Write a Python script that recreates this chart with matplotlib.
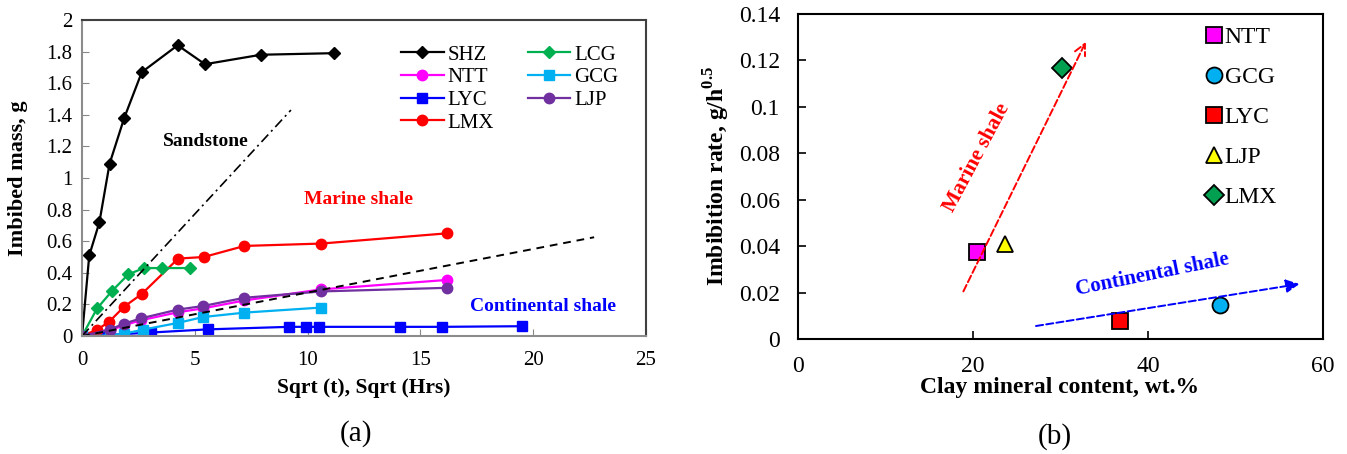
import matplotlib
matplotlib.use("Agg")
import matplotlib.pyplot as plt
import numpy as np

plt.rcParams["font.family"] = ["Liberation Serif", "DejaVu Serif"]
plt.rcParams["mathtext.fontset"] = "custom"
plt.rcParams["mathtext.rm"] = "Liberation Serif"
plt.rcParams["mathtext.bf"] = "Liberation Serif:bold"

# ---- panel (a): imbibed mass vs sqrt(t) ----
shz_x = [0, 0.32, 0.77, 1.22, 1.87, 2.65, 4.24, 5.45, 7.93, 11.18]
shz_y = [0, 0.51, 0.72, 1.09, 1.38, 1.67, 1.84, 1.72, 1.78, 1.79]

lcg_x = [0, 0.67, 1.33, 2.05, 2.74, 3.55, 4.8]
lcg_y = [0, 0.175, 0.285, 0.39, 0.43, 0.43, 0.43]

lmx_x = [0, 0.67, 1.2, 1.86, 2.64, 4.26, 5.4, 7.2, 10.6, 16.2]
lmx_y = [0, 0.04, 0.09, 0.185, 0.265, 0.49, 0.50, 0.57, 0.585, 0.65]

ntt_x = [0, 1.22, 1.86, 2.62, 4.24, 5.37, 7.2, 10.6, 16.2]
ntt_y = [0, 0.035, 0.068, 0.1, 0.15, 0.175, 0.225, 0.295, 0.355]

ljp_x = [0, 1.22, 1.86, 2.62, 4.24, 5.37, 7.2, 10.6, 16.2]
ljp_y = [0, 0.04, 0.078, 0.112, 0.167, 0.19, 0.242, 0.282, 0.305]

gcg_x = [0, 1.22, 1.87, 2.7, 4.25, 5.37, 7.2, 10.6]
gcg_y = [0, 0.003, 0.015, 0.04, 0.083, 0.12, 0.148, 0.18]

lyc_x = [0, 0.99, 3.05, 5.57, 9.19, 9.94, 10.5, 14.08, 15.95, 19.5]
lyc_y = [0, 0.005, 0.022, 0.042, 0.058, 0.058, 0.058, 0.058, 0.058, 0.062]

sand_trend_x = [0, 9.26]
sand_trend_y = [0, 1.43]
shale_trend_x = [0, 22.7]
shale_trend_y = [0, 0.625]

# ---- panel (b): imbibition rate vs clay content ----
b_labels = ["NTT", "GCG", "LYC", "LJP", "LMX"]
b_clay = [20.5, 48.2, 36.8, 23.7, 30.2]
b_rate = [0.0375, 0.0146, 0.0076, 0.0408, 0.1168]
b_markers = ["s", "o", "s", "^", "D"]
b_colors = ["#ff00ff", "#00b0f0", "#ff0000", "#ffff00", "#00a050"]
marine_arrow = [(18.9, 0.0205), (32.9, 0.128)]
continental_arrow = [(27.2, 0.0056), (57.3, 0.0237)]

fig = plt.figure(figsize=(13.47, 4.54), dpi=100)
ax1 = fig.add_axes([0.0609, 0.2599, 0.4187, 0.6961])
ax2 = fig.add_axes([0.5924, 0.2533, 0.3898, 0.7159])

lw = 1.6
ax1.plot(shz_x, shz_y, "-D", color="black", ms=6.5, lw=lw, label="SHZ")
ax1.plot(ntt_x, ntt_y, "-o", color="#ff00ff", ms=7.5, lw=lw, label="NTT")
ax1.plot(lyc_x, lyc_y, "-s", color="#0000ff", ms=7, lw=lw, label="LYC")
ax1.plot(lmx_x, lmx_y, "-o", color="#ff0000", ms=7.5, lw=lw, label="LMX")
ax1.plot(lcg_x, lcg_y, "-D", color="#00b050", ms=6, lw=lw, label="LCG")
ax1.plot(gcg_x, gcg_y, "-s", color="#00b0f0", ms=7, lw=lw, label="GCG")
ax1.plot(ljp_x, ljp_y, "-o", color="#7030a0", ms=7.5, lw=lw, label="LJP")
ax1.plot(sand_trend_x, sand_trend_y, color="black", lw=1.2, dashes=[6, 2.5, 1.2, 2.5])
ax1.plot(shale_trend_x, shale_trend_y, color="black", lw=1.4, dashes=[4, 3])

ax1.text(5.48, 1.228, "Sandstone", fontsize=14, fontweight="bold", ha="center", va="center")
ax1.text(12.27, 0.867, "Marine shale", fontsize=14, fontweight="bold", color="#ff0000",
         ha="center", va="center")
ax1.text(20.45, 0.185, "Continental shale", fontsize=14, fontweight="bold", color="#0000ff",
         ha="center", va="center")

ax1.set_xlim(0, 25)
ax1.set_ylim(0, 2)
ax1.set_xticks(np.arange(0, 26, 5))
ax1.set_yticks(np.arange(0, 2.01, 0.2))
ax1.set_yticklabels(["0", "0.2", "0.4", "0.6", "0.8", "1", "1.2", "1.4", "1.6", "1.8", "2"])
ax1.tick_params(direction="in", labelsize=15, color="#888888", length=5)
ax1.tick_params(axis="x", pad=11)
ax1.tick_params(axis="y", pad=7)
for side in ["left", "bottom"]:
    ax1.spines[side].set_color("#8c8c8c")
    ax1.spines[side].set_linewidth(1.5)
for side in ["top", "right"]:
    ax1.spines[side].set_color("#404040")
    ax1.spines[side].set_linewidth(1.5)
ax1.set_xlabel("Sqrt (t), Sqrt (Hrs)", fontsize=15.5, fontweight="bold", va="center")
ax1.set_ylabel("Imbibed mass, g", fontsize=16, fontweight="bold", va="center")
ax1.xaxis.set_label_coords(0.4995, -0.165)
ax1.yaxis.set_label_coords(-0.1135, 0.5)
ax1.legend(ncol=2, loc="upper left", bbox_to_anchor=(0.532, 0.98), frameon=False,
           fontsize=15, handlelength=2.05, columnspacing=1.6, labelspacing=0.15,
           handletextpad=0.2)

# panel (b)
for lab, cx, r, m, c in zip(b_labels, b_clay, b_rate, b_markers, b_colors):
    ms = 10 if m == "D" else 11.5
    ax2.plot(cx, r, linestyle="none", marker=m, ms=ms, color=c, mec="black", mew=1.3,
             label=lab)

ax2.annotate("", xy=marine_arrow[1], xytext=marine_arrow[0],
             arrowprops=dict(arrowstyle="->", color="#ff0000", lw=1.4, linestyle="--",
                             mutation_scale=20, shrinkA=0, shrinkB=0))
ax2.annotate("", xy=continental_arrow[1], xytext=continental_arrow[0],
             arrowprops=dict(arrowstyle="-|>", color="#0000ff", lw=1.4, linestyle="--",
                             mutation_scale=20, shrinkA=0, shrinkB=0))
ax2.text(20.4, 0.0782, "Marine shale", fontsize=15.5, fontweight="bold", color="#ff0000",
         rotation=62, ha="center", va="center")
ax2.text(40.5, 0.0277, "Continental shale", fontsize=15, fontweight="bold", color="#0000ff",
         rotation=11.5, ha="center", va="center")

ax2.set_xlim(0, 60)
ax2.set_ylim(0, 0.14)
ax2.set_xticks([0, 20, 40, 60])
ax2.set_yticks(np.arange(0, 0.141, 0.02))
ax2.set_yticklabels(["0", "0.02", "0.04", "0.06", "0.08", "0.1", "0.12", "0.14"])
ax2.tick_params(direction="in", labelsize=17, color="black", length=6, width=1.2)
ax2.tick_params(axis="x", pad=12)
ax2.tick_params(axis="y", pad=13)
for side in ax2.spines:
    ax2.spines[side].set_linewidth(1.5)
ax2.set_xlabel("Clay mineral content, wt.%", fontsize=17, fontweight="bold", va="center")
ax2.set_ylabel(r"Imbibition rate, g/h$^{\mathbf{0.5}}$", fontsize=17, fontweight="bold",
               va="center")
ax2.xaxis.set_label_coords(0.499, -0.148)
ax2.yaxis.set_label_coords(-0.154, 0.5)
ax2.legend(loc="upper left", bbox_to_anchor=(0.75, 1.005), frameon=False, fontsize=17,
           handlelength=0.7, handletextpad=0.1, labelspacing=0.78, borderaxespad=0.2)

fig.text(0.2645, 0.044, "(a)", fontsize=21, ha="center", va="center")
fig.text(0.7832, 0.038, "(b)", fontsize=21, ha="center", va="center")

fig.savefig("out.png", dpi=100)
